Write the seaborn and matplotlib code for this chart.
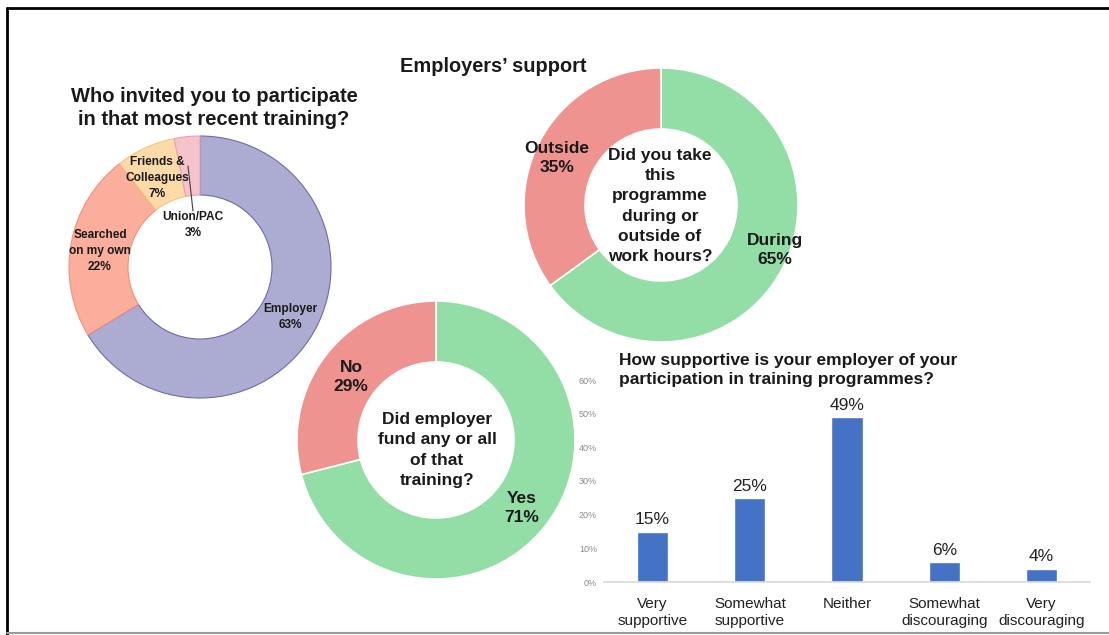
import matplotlib
matplotlib.use("Agg")
import matplotlib.pyplot as plt
from matplotlib.lines import Line2D
import pandas as pd
import seaborn as sns

# Who invited you
invite_labels = ["Employer", "Searched\non my own", "Friends &\nColleagues", "Union/PAC"]
invite_values = [63, 22, 7, 3]
invite_colors = ["#acacd2", "#fbae9c", "#fddba8", "#f5c4ca"]
invite_edges = ["#6b6bb0", "#f2907c", "#f3c27c", "#e9a3ad"]

# During or outside work hours
hours_labels = ["During", "Outside"]
hours_values = [65, 35]

# Did employer fund
fund_labels = ["Yes", "No"]
fund_values = [71, 29]

# How supportive is your employer
support_cats = ["Very\nsupportive", "Somewhat\nsupportive", "Neither",
                "Somewhat\ndiscouraging", "Very\ndiscouraging"]
support_vals = [15, 25, 49, 6, 4]

green = "#93dea6"
red = "#ef9391"

sns.set_theme(style="white")
plt.rcParams["font.family"] = ["Liberation Sans", "DejaVu Sans"]

W, H = 1109, 635
fig = plt.figure(figsize=(W / 100, H / 100), dpi=100)
fig.patch.set_facecolor("white")


def fx(x):
    return x / W


def fy(y):
    return 1 - y / H


def donut(cx, cy, r, inner, values, colors, edges, lw):
    ax = fig.add_axes([fx(cx - r), fy(cy + r), 2 * r / W, 2 * r / H])
    wedges, _ = ax.pie(values, colors=colors, startangle=90, counterclock=False,
                       radius=1, wedgeprops=dict(width=1 - inner / r, linewidth=lw))
    for w, e in zip(wedges, edges):
        w.set_edgecolor(e)
    ax.set_xlim(-1, 1)
    ax.set_ylim(-1, 1)
    ax.axis("off")
    return ax


def label(x, y, s, size, weight="bold", color="#1a1a1a", ls=1.4):
    fig.text(fx(x), fy(y), s, ha="center", va="center", fontsize=size,
             fontweight=weight, color=color, linespacing=ls, multialignment="center")


# border of the slide
fig.add_artist(Line2D([fx(7), fx(1109)], [fy(8), fy(8)], transform=fig.transFigure,
                      color="black", lw=2))
fig.add_artist(Line2D([fx(7), fx(7)], [fy(8), fy(635)], transform=fig.transFigure,
                      color="black", lw=2))
fig.add_artist(Line2D([fx(7), fx(1109)], [fy(633), fy(633)], transform=fig.transFigure,
                      color="#9a9a9a", lw=1.5))

# donut 1
donut(200, 267, 131, 72, invite_values, invite_colors, invite_edges, 0.8)
pct = [f"{v}%" for v in invite_values]
label(290, 317, f"{invite_labels[0]}\n{pct[0]}", 8.6, ls=1.4)
label(100, 251, f"{invite_labels[1]}\n{pct[1]}", 8.6, ls=1.4)
label(157, 178, f"{invite_labels[2]}\n{pct[2]}", 8.6, ls=1.4)
label(193, 225, f"{invite_labels[3]}\n{pct[3]}", 8.6, ls=1.4)
fig.add_artist(Line2D([fx(188), fx(193)], [fy(166), fy(211)], transform=fig.transFigure,
                      color="#404040", lw=0.8))
label(214, 108, "Who invited you to participate\nin that most recent training?", 14.5, ls=1.3)

# donut 2
donut(661, 205, 137, 76, hours_values, [green, red], ["white", "white"], 1.2)
label(775, 250, f"{hours_labels[0]}\n{hours_values[0]}%", 12.5, ls=1.35)
label(557, 158, f"{hours_labels[1]}\n{hours_values[1]}%", 12.5, ls=1.35)
label(660, 206, "Did you take\nthis\nprogramme\nduring or\noutside of\nwork hours?", 12.5, ls=1.42)
label(493, 66, "Employers\u2019 support", 14.4)

# donut 3
donut(436, 440, 139, 78, fund_values, [green, red], ["white", "white"], 1.2)
label(522, 508, f"{fund_labels[0]}\n{fund_values[0]}%", 12.5, ls=1.35)
label(351, 377, f"{fund_labels[1]}\n{fund_values[1]}%", 12.5, ls=1.35)
label(437, 450, "Did employer\nfund any or all\nof that\ntraining?", 12.5, ls=1.42)

# bar chart
axb = fig.add_axes([fx(604), fy(582), (1090 - 604) / W, (582 - 380) / H])
df = pd.DataFrame({"cat": support_cats, "val": support_vals})
sns.barplot(data=df, x="cat", y="val", color="#4472c4", saturation=1, width=0.32, ax=axb)
axb.set_xlim(-0.5, 4.5)
axb.set_ylim(0, 60)
axb.set_yticks(range(0, 61, 10))
axb.set_yticklabels([f"{t}%" for t in range(0, 61, 10)], fontsize=6.5, color="#8a8a8a")
axb.tick_params(axis="x", labelsize=11, colors="#222222", pad=11, length=0)
axb.tick_params(axis="y", length=0, pad=5)
axb.set_xlabel("")
axb.set_ylabel("")
for s in ["top", "right", "left"]:
    axb.spines[s].set_visible(False)
axb.spines["bottom"].set_color("#d9d9d9")
axb.patch.set_alpha(0)
for lab in axb.get_xticklabels():
    lab.set_linespacing(1.25)
for i, v in enumerate(support_vals):
    axb.text(i, v + 1.2, f"{v}%", ha="center", va="bottom", fontsize=12.5, color="#222222")
fig.text(fx(619), fy(370), "How supportive is your employer of your\nparticipation in training programmes?",
         ha="left", va="center", fontsize=12.5, fontweight="bold", color="#1a1a1a", linespacing=1.35)

fig.savefig("out.png", dpi=100)
